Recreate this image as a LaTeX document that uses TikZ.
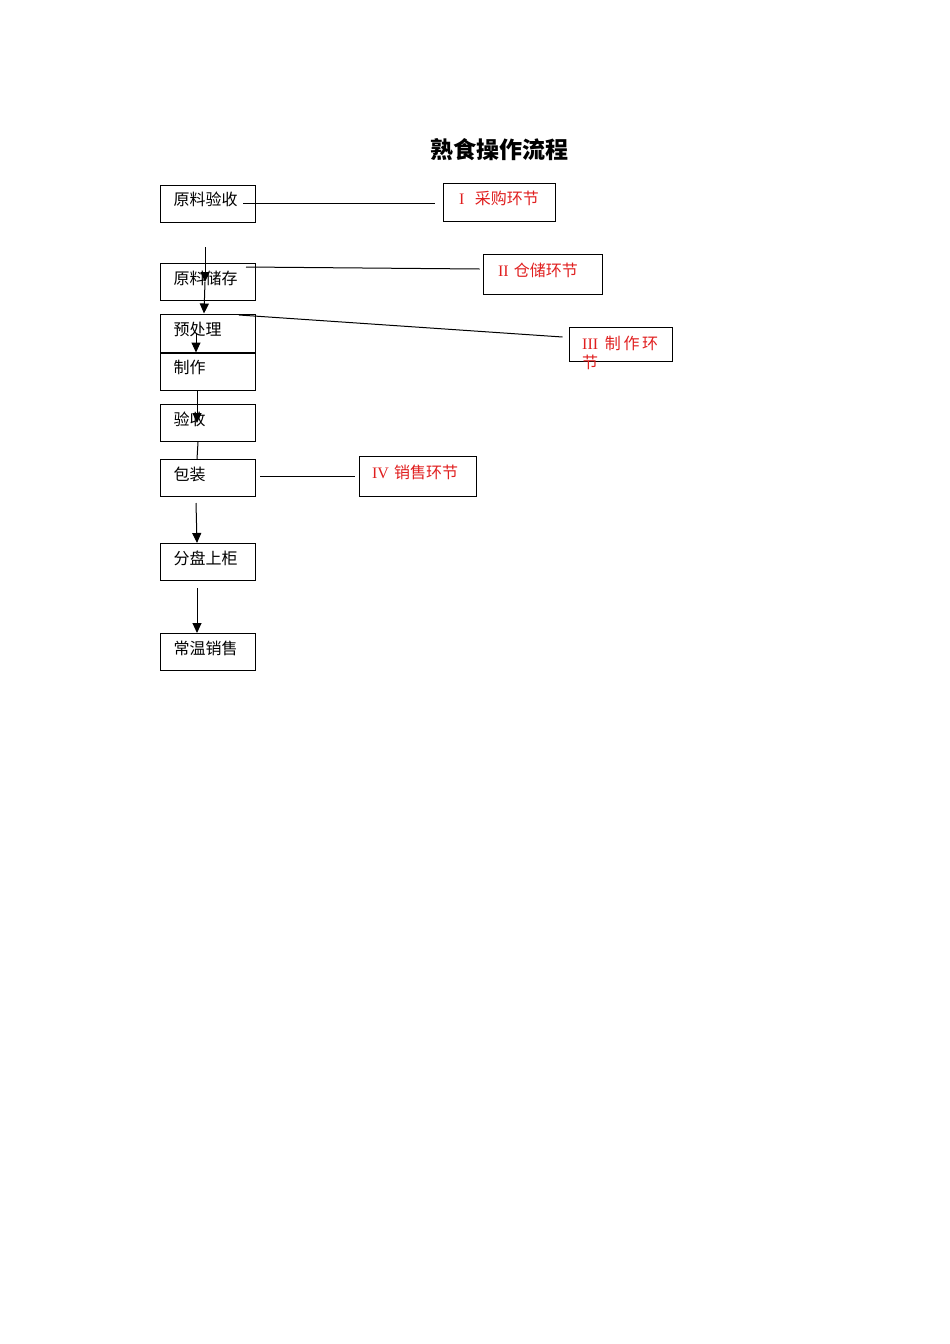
\documentclass[tikz,border=0pt]{standalone}
\usepackage{fontspec}
\setmainfont{Liberation Serif}
\newfontfamily\cjk{Noto Sans CJK SC}
\usetikzlibrary{arrows.meta}
\definecolor{linkred}{rgb}{0.88,0.12,0.12}

\begin{document}
\begin{tikzpicture}[x=1pt,y=-1pt,
    stepbox/.style={draw,line width=1pt,text width=69pt,inner xsep=13pt,
      minimum height=37pt,align=left,text depth=9pt,
      font=\fontsize{16}{18}\selectfont\cjk},
    linkbox/.style={draw,line width=1pt,inner xsep=13pt,align=left,text depth=9pt,
      text=linkred,font=\fontsize{16}{18}\selectfont},
    arr/.style={-{Triangle[length=10pt,width=9pt]},line width=1pt},
    link/.style={line width=1pt}]
    \useasboundingbox (0,0) rectangle (950,1344);

    \node[font=\fontsize{23}{26}\selectfont\cjk\bfseries] (title) at (499,150) {熟食操作流程};

    % left column
    \node[stepbox] (n1) at (208,203.5) {原料验收};
    \node[stepbox] (n2) at (208,282) {原料储存};
    \node[stepbox,minimum height=38pt] (n3) at (208,333) {预处理};
    \node[stepbox] (n4) at (208,371.5) {制作};
    \node[stepbox] (n5) at (208,423) {验收};
    \node[stepbox] (n6) at (208,478) {包装};
    \node[stepbox] (n7) at (208,562) {分盘上柜};
    \node[stepbox] (n8) at (208,652) {常温销售};

    % stages
    \node[linkbox,text width=80pt,inner xsep=16pt,minimum height=38pt] (s1) at (499,202) {I\ \ {\cjk 采购环节}};
    \node[linkbox,text width=89pt,inner xsep=15pt,minimum height=40pt] (s2) at (542.5,274) {II\ {\cjk 仓储环节}};
    \node[draw,line width=1pt,minimum width=103pt,minimum height=34pt] (s3) at (620.5,344) {};
    \node[anchor=north west,inner sep=0pt,align=left,text=linkred,
      font=\fontsize{16}{18}\selectfont] (s3t) at (582,336) {III\ \,{\cjk 制\,作\,环}\\[1pt]{\cjk 节}};
    \node[linkbox,text width=91pt,minimum height=40pt] (s4) at (417.5,476) {IV\ {\cjk 销售环节}};

    \coordinate (c1) at (205,247);
    \coordinate (c2) at (205,282);
    \coordinate (c3) at (196,503);
    \coordinate (c4) at (197,588);

    \draw[arr] (c1) -- (c2);
    \draw[arr] (c2) -- ([xshift=-4pt]n3.north);
    \draw[arr] ([xshift=-12pt]n3.center) -- ([xshift=-12pt]n3.south);
    \draw[arr] ([xshift=-11pt]n4.south) -- ([xshift=-11pt]n5.center);
    \draw[link] ([xshift=-10pt]n5.south) -- ([xshift=-11pt]n6.north);
    \draw[arr] (c3) -- ([xshift=-11pt]n7.north);
    \draw[arr] (c4) -- ([xshift=-11pt]n8.north);

    \draw[link] ([xshift=-13pt,yshift=0.5pt]n1.east) -- ([xshift=-8pt,yshift=-1pt]s1.west);
    \draw[link] ([xshift=-10pt,yshift=15pt]n2.east) -- ([xshift=-3pt,yshift=5pt]s2.west);
    \draw[link] ([xshift=-17pt,yshift=18pt]n3.east) -- ([xshift=-6pt,yshift=7pt]s3.west);
    \draw[link] ([xshift=4pt,yshift=2pt]n6.east) -- ([xshift=-4pt]s4.west);
\end{tikzpicture}
\end{document}
